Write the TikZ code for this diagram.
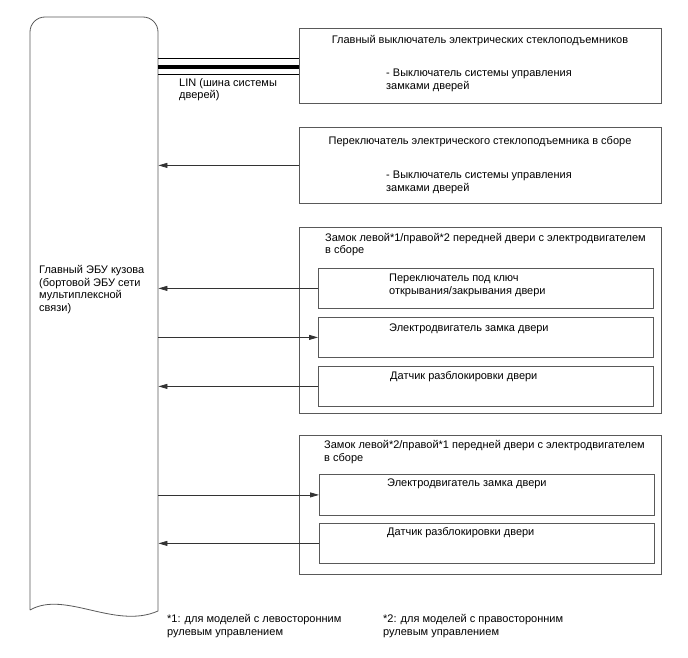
\documentclass[tikz,border=0pt]{standalone}
\usepackage{fontspec}
\setmainfont{Liberation Sans}
\usetikzlibrary{arrows.meta}

\tikzset{
  outline/.style={draw=black!65, line width=0.8pt},
  box/.style={outline, rectangle, inner sep=0pt, anchor=north west},
  txt/.style={inner sep=0pt, align=left, anchor=base west,
    font=\fontsize{11}{12.5}\selectfont},
  sig/.style={draw=black!80, line width=0.8pt, -{Triangle[length=9pt,width=5pt]}}
}

\begin{document}
\begin{tikzpicture}[x=1pt, y=-1pt]
  \useasboundingbox (0,0) rectangle (688,658);

  % Parameters
  \def\outerW{362}
  \def\innerW{335}

  % Main body ECU (rounded top, wavy bottom)
  \node[inner sep=0pt, minimum width=128, minimum height=594, anchor=north west] (ecu) at (30,17) {};
  \draw[outline] (30,610) -- (30,32) arc[start angle=180, end angle=270, radius=15]
    -- (143,17) arc[start angle=270, end angle=360, radius=15]
    -- (158,611) .. controls (115,630) and (65,590) .. (30,610);
  % (base of a multi-line node = its last line)
  \node[txt] (ecutext) at (39,311) {Главный ЭБУ кузова\\(бортовой ЭБУ сети\\мультиплексной\\связи)};

  % Power window master switch
  \node[box, minimum width=\outerW, minimum height=75] (wsw) at (299,28) {};
  \node[txt, anchor=base] (wswtitle) at (480,43.5) {Главный выключатель электрических стеклоподъемников};
  \node[txt] (wswsub) at (386,89.2) {- Выключатель системы управления\\замками дверей};

  % Power window regulator switch
  \node[box, minimum width=\outerW, minimum height=76] (pws) at (299,127) {};
  \node[txt, anchor=base] (pwstitle) at (480,144.5) {Переключатель электрического стеклоподъемника в сборе};
  \node[txt] (pwssub) at (386,191) {- Выключатель системы управления\\замками дверей};

  % Front door lock *1/*2
  \node[box, minimum width=\outerW, minimum height=186] (lockA) at (299,227) {};
  \node[txt] (lockAtitle) at (325,253.5) {Замок левой*1/правой*2 передней двери с электродвигателем\\в сборе};
  \node[box, minimum width=\innerW, minimum height=40] (keysw) at (318,268) {};
  \node[txt] (keyswtext) at (389,294) {Переключатель под ключ\\открывания/закрывания двери};
  \node[box, minimum width=\innerW, minimum height=40] (motorA) at (318,317) {};
  \node[txt] (motorAtext) at (389,331.5) {Электродвигатель замка двери};
  \node[box, minimum width=\innerW, minimum height=40] (sensA) at (318,366) {};
  \node[txt] (sensAtext) at (390,379.5) {Датчик разблокировки двери};

  % Front door lock *2/*1
  \node[box, minimum width=\outerW, minimum height=139] (lockB) at (299,435) {};
  \node[txt] (lockBtitle) at (324,461) {Замок левой*2/правой*1 передней двери с электродвигателем\\в сборе};
  \node[box, minimum width=\innerW, minimum height=41] (motorB) at (319,474) {};
  \node[txt] (motorBtext) at (387,486.5) {Электродвигатель замка двери};
  \node[box, minimum width=\innerW, minimum height=40] (sensB) at (319,523) {};
  \node[txt] (sensBtext) at (387,535.5) {Датчик разблокировки двери};

  % LIN bus
  \foreach \dy/\lw in {7/0.8, -1.2/3.5, -8.5/0.8}
    \draw[black, line width=\lw pt] ([yshift=\dy pt]wsw.west -| ecu.east) -- ([yshift=\dy pt]wsw.west);
  \node[txt] (lin) at (179,99) {LIN (шина системы\\дверей)};

  % Signals
  \draw[sig] (pws.west) -- (pws.west -| ecu.east);
  \draw[sig] (keysw.west) -- (keysw.west -| ecu.east);
  \draw[sig] (motorA.west -| ecu.east) -- (motorA.west);
  \draw[sig] (sensA.west) -- (sensA.west -| ecu.east);
  \draw[sig] (motorB.west -| ecu.east) -- (motorB.west);
  \draw[sig] (sensB.west) -- (sensB.west -| ecu.east);

  % Footnotes
  \node[txt] (note1) at (167,635) {*1: для моделей с левосторонним\\рулевым управлением};
  \node[txt] (note2) at (383,635) {*2: для моделей с правосторонним\\рулевым управлением};

\end{tikzpicture}
\end{document}
